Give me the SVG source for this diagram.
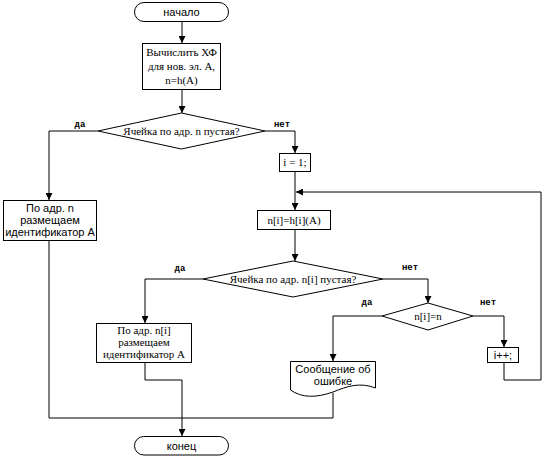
<svg xmlns="http://www.w3.org/2000/svg" width="552" height="457" viewBox="0 0 552 457">
<style>
.s{fill:#fff;stroke:#000;stroke-width:1}
.c{fill:none;stroke:#000;stroke-width:1}
.sans{font-family:"Liberation Sans",Arial,sans-serif;font-size:11px;fill:#000;text-anchor:middle}
.ser{font-family:"Liberation Serif","Times New Roman",serif;font-size:11px;fill:#000;text-anchor:middle}
.lbl{font-family:"Liberation Mono","Courier New",monospace;font-size:9px;font-weight:bold;fill:#000;text-anchor:middle}
</style>
<defs>
<marker id="ar" viewBox="0 0 8 8" refX="8" refY="4" markerWidth="7" markerHeight="7" markerUnits="userSpaceOnUse" orient="auto">
<path d="M0,0 L8,4 L0,8 Z" fill="#000"/>
</marker>
</defs>
<rect width="552" height="457" fill="#fff"/>
<g id="connectors">
<path class="c" d="M182,21 V43" marker-end="url(#ar)"/>
<path class="c" d="M182,89 V113" marker-end="url(#ar)"/>
<path class="c" d="M98,131 H49 V200" marker-end="url(#ar)"/>
<path class="c" d="M265,131 H295 V153" marker-end="url(#ar)"/>
<path class="c" d="M295,171 V210" marker-end="url(#ar)"/>
<path class="c" d="M504,362 V380 H541 V192 H296" marker-end="url(#ar)"/>
<path class="c" d="M295,229 V261" marker-end="url(#ar)"/>
<path class="c" d="M203,279 H145 V323" marker-end="url(#ar)"/>
<path class="c" d="M383,279 H428 V303" marker-end="url(#ar)"/>
<path class="c" d="M382,316 H333 V361" marker-end="url(#ar)"/>
<path class="c" d="M473,316 H504 V347" marker-end="url(#ar)"/>
<path class="c" d="M49,241 V418 H333 V393"/>
<path class="c" d="M145,363 V380 H182 V436" marker-end="url(#ar)"/>
<text class="lbl" x="80" y="127">да</text>
<text class="lbl" x="282" y="127">нет</text>
<text class="lbl" x="180" y="271">да</text>
<text class="lbl" x="410" y="270">нет</text>
<text class="lbl" x="367" y="305">да</text>
<text class="lbl" x="488" y="305">нет</text>
</g>
<g id="start">
<rect class="s" x="134.5" y="2.5" width="94" height="19" rx="9.5"/>
<text class="sans" x="181.5" y="16">начало</text>
</g>
<g id="calc">
<rect class="s" x="142.5" y="43.5" width="78" height="46"/>
<text class="ser" x="181.5" y="56">Вычислить ХФ</text>
<text class="ser" x="181.5" y="70">для нов. эл. А,</text>
<text class="ser" x="181.5" y="84">n=h(A)</text>
</g>
<g id="dec1">
<path class="s" d="M181.5,113 L265,131 L181.5,149 L98,131 Z"/>
<text class="ser" x="181.5" y="135">Ячейка по адр. n пустая?</text>
</g>
<g id="place1">
<rect class="s" x="3.5" y="200.5" width="93" height="40"/>
<text class="sans" x="50" y="212">По адр. n</text>
<text class="sans" x="50" y="224">размещаем</text>
<text class="sans" x="50" y="236">идентификатор А</text>
</g>
<g id="init">
<rect class="s" x="279.5" y="153.5" width="31" height="18"/>
<text class="ser" x="295" y="166">i = 1;</text>
</g>
<g id="hash">
<rect class="s" x="257.5" y="210.5" width="73" height="19"/>
<text class="ser" x="294" y="224">n[i]=h[i](A)</text>
</g>
<g id="dec2">
<path class="s" d="M293,261 L383,279 L293,297 L203,279 Z"/>
<text class="ser" x="293" y="283">Ячейка по адр. n[i] пустая?</text>
</g>
<g id="place2">
<rect class="s" x="96.5" y="323.5" width="95" height="39"/>
<text class="ser" x="144" y="334">По адр. n[i]</text>
<text class="ser" x="144" y="346">размещаем</text>
<text class="ser" x="144" y="358">идентификатор А</text>
</g>
<g id="dec3">
<path class="s" d="M428,303 L473,316 L428,330 L382,316 Z"/>
<text class="ser" x="428" y="320">n[i]=n</text>
</g>
<g id="error">
<path class="s" d="M290.5,361.5 H375.5 V388 C360,382 348,386 333,392 C316,398 302,398 290.5,390 Z"/>
<text class="sans" x="333" y="373">Сообщение об</text>
<text class="sans" x="333" y="385">ошибке</text>
</g>
<g id="inc">
<rect class="s" x="487.5" y="347.5" width="31" height="15"/>
<text class="sans" x="503" y="359">i++;</text>
</g>
<g id="end">
<rect class="s" x="134.5" y="436.5" width="94" height="18.5" rx="9.25"/>
<text class="sans" x="181.5" y="449.5">конец</text>
</g>
</svg>
